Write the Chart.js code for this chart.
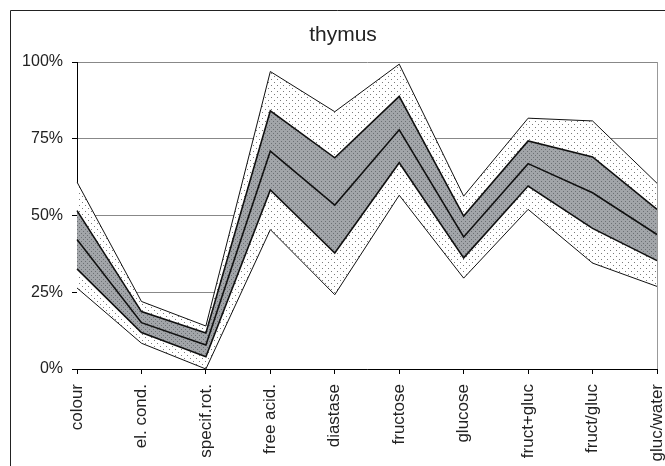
<!DOCTYPE html>
<html>
<head>
<meta charset="utf-8">
<script src="https://cdn.jsdelivr.net/npm/chart.js@4/dist/chart.umd.min.js"></script>
<style>
  html, body { margin: 0; padding: 0; background: #fff; }
  canvas { display: block; }
</style>
</head>
<body>
<canvas id="chart" width="665" height="466"></canvas>
<script>
const categories = ['colour', 'el. cond.', 'specif.rot.', 'free acid.', 'diastase', 'fructose', 'glucose', 'fruct+gluc', 'fruct/gluc', 'gluc/water'];
const minVals = [26.4, 8.4, 0, 45.4, 24.2, 56.6, 29.6, 52.0, 34.5, 26.9];
const q1Vals = [32.6, 11.9, 4.0, 58.3, 37.8, 67.2, 36.2, 59.6, 45.8, 35.3];
const medVals = [42.2, 15.1, 7.8, 71.0, 53.4, 77.9, 43.0, 66.9, 57.4, 43.8];
const q3Vals = [51.6, 18.7, 11.7, 84.1, 68.8, 88.8, 49.8, 74.3, 69.1, 52.0];
const maxVals = [60.9, 22.0, 14.0, 96.9, 83.8, 99.3, 56.3, 81.7, 80.8, 60.5];
const yTicks = [0, 25, 50, 75, 100];

const ctx = document.getElementById('chart').getContext('2d');

// small tiled patterns: white with sparse dots, grey with darker dots
function makePattern(bg, dot, size, dots) {
  const c = document.createElement('canvas');
  c.width = size;
  c.height = size;
  const g = c.getContext('2d');
  g.fillStyle = bg;
  g.fillRect(0, 0, size, size);
  g.fillStyle = dot;
  dots.forEach(([x, y]) => g.fillRect(x, y, 1, 1));
  return ctx.createPattern(c, 'repeat');
}

const lightDots = makePattern('#ffffff', '#7a7a7a', 6, [[1, 1], [4, 4]]);
const greyDots = makePattern('#a2a5a9', '#6c7074', 4, [[1, 1], [3, 3]]);

const framePlugin = {
  id: 'frame',
  afterDraw(chart) {
    const c = chart.ctx;
    const a = chart.chartArea;
    c.save();
    c.strokeStyle = '#222';
    c.lineWidth = 1;
    c.beginPath();
    c.moveTo(10.5, 466);
    c.lineTo(10.5, 10.5);
    c.lineTo(665, 10.5);
    c.stroke();
    c.strokeStyle = '#999';
    c.beginPath();
    c.moveTo(a.right + 0.5, a.top);
    c.lineTo(a.right + 0.5, a.bottom);
    c.stroke();
    c.fillStyle = '#222';
    c.font = '21px "Liberation Sans", Arial, sans-serif';
    c.textAlign = 'center';
    c.textBaseline = 'middle';
    c.fillText('thymus', 343, 35);
    c.restore();
  }
};

function band(data, bg, width) {
  return {
    data: data,
    borderColor: '#111',
    borderWidth: width,
    backgroundColor: bg,
    fill: 'origin',
    pointRadius: 0,
    tension: 0
  };
}

new Chart(ctx, {
  type: 'line',
  data: {
    labels: categories,
    datasets: [
      band(minVals, '#ffffff', 1),
      band(q1Vals, lightDots, 1.6),
      band(medVals, greyDots, 1.6),
      band(q3Vals, greyDots, 1.6),
      band(maxVals, lightDots, 1)
    ]
  },
  options: {
    responsive: false,
    animation: false,
    layout: { padding: { top: 62, right: 8, left: 0, bottom: 0 } },
    plugins: {
      legend: { display: false },
      tooltip: { enabled: false },
      title: { display: false }
    },
    scales: {
      x: {
        offset: false,
        afterFit(scale) {
          scale.height = 97;
          scale.paddingLeft = 0;
          scale.paddingRight = 0;
        },
        border: { color: '#000', width: 1 },
        grid: { drawOnChartArea: false, drawTicks: true, tickLength: 5, tickColor: '#000' },
        ticks: {
          minRotation: 90,
          maxRotation: 90,
          padding: 10,
          color: '#222',
          font: { family: '"Liberation Sans", Arial, sans-serif', size: 17 }
        }
      },
      y: {
        min: 0,
        max: 100,
        afterFit(scale) { scale.width = 77; },
        afterBuildTicks(scale) { scale.ticks = yTicks.map(v => ({ value: v })); },
        border: { color: '#000', width: 1 },
        grid: { color: '#888', lineWidth: 1, tickLength: 5, tickColor: '#000' },
        ticks: {
          padding: 9,
          color: '#222',
          font: { family: '"Liberation Sans", Arial, sans-serif', size: 16 },
          callback: v => v + '%'
        }
      }
    }
  },
  plugins: [framePlugin]
});
</script>
</body>
</html>
